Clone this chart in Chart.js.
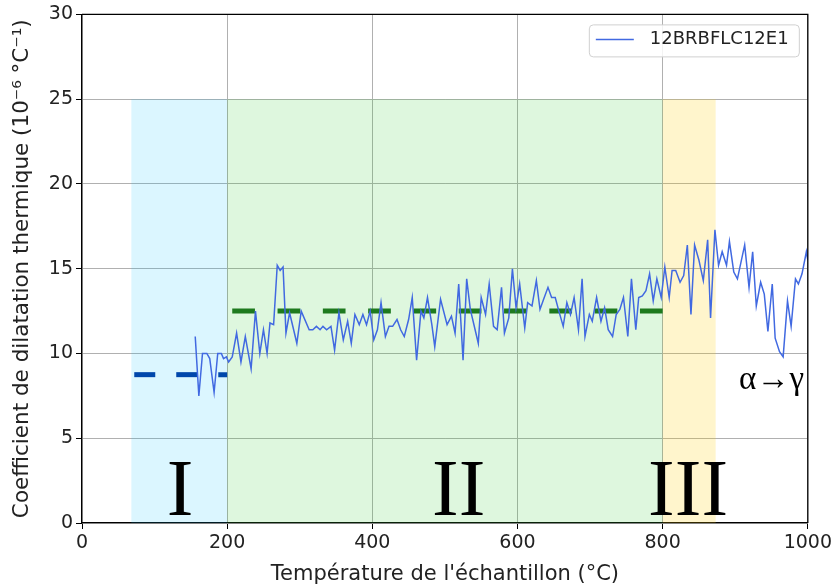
<!DOCTYPE html>
<html>
<head>
<meta charset="utf-8">
<script src="https://cdn.jsdelivr.net/npm/chart.js@4/dist/chart.umd.min.js"></script>
<style>
  html, body { margin: 0; padding: 0; background: #fff; }
  #wrap { width: 835px; height: 587px; }
</style>
</head>
<body>
<div id="wrap"><canvas id="c" width="835" height="587"></canvas></div>
<script>
// Measured thermal expansion coefficient versus sample temperature
const temperatures = [
  156, 161, 166, 172, 176, 182, 187, 192, 195, 199,
  202, 207, 213, 219, 225, 233, 239, 245, 250, 255,
  259, 264, 269, 273, 277, 281, 286, 291, 296, 302,
  313, 318, 323, 328, 332, 337, 343, 348, 354, 360,
  366, 371, 376, 382, 387, 392, 397, 402, 407, 412,
  418, 423, 428, 434, 439, 444, 450, 455, 461, 467,
  471, 476, 482, 486, 494, 503, 509, 514, 519, 525,
  530, 535, 546, 550, 556, 561, 567, 572, 578, 582,
  588, 593, 598, 603, 610, 614, 620, 626, 631, 636,
  642, 647, 652, 657, 663, 668, 673, 678, 684, 689,
  693, 699, 703, 709, 715, 720, 725, 731, 736, 741,
  746, 752, 757, 763, 767, 772, 777, 782, 787, 792,
  798, 803, 809, 813, 818, 824, 829, 834, 839, 844,
  850, 856, 862, 866, 872, 877, 882, 888, 892, 898,
  903, 913, 919, 924, 929, 935, 940, 945, 951, 955,
  961, 966, 972, 977, 983, 987, 992, 998, 1000
];
const coefficients = [
  11.0, 7.5, 10.0, 10.0, 9.7, 7.7, 10.0, 10.0, 9.7, 9.8,
  9.5, 9.8, 11.2, 9.5, 11.0, 9.1, 12.5, 10.0, 11.4, 10.0,
  11.8, 11.7, 15.2, 14.9, 15.1, 11.2, 12.4, 11.5, 10.6, 12.5,
  11.4, 11.4, 11.6, 11.4, 11.6, 11.4, 11.6, 10.2, 12.4, 10.8,
  11.9, 10.6, 12.3, 11.7, 12.3, 11.7, 12.5, 10.8, 11.4, 13.0,
  11.0, 11.6, 11.6, 12.0, 11.4, 11.0, 12.0, 13.3, 9.6, 12.5,
  12.1, 13.3, 11.7, 10.4, 13.2, 11.7, 12.2, 11.2, 14.1, 9.6,
  14.4, 12.6, 10.6, 13.3, 12.3, 14.1, 11.6, 11.4, 13.9, 11.2,
  12.1, 15.0, 12.7, 14.1, 11.5, 13.0, 12.8, 14.3, 12.6, 13.2,
  13.9, 13.3, 13.3, 12.5, 11.6, 13.0, 12.3, 13.3, 11.4, 14.4,
  11.0, 12.3, 11.9, 13.3, 11.9, 12.7, 11.4, 11.0, 12.3, 12.6,
  13.3, 11.0, 14.4, 11.4, 13.3, 13.4, 13.7, 14.7, 13.1, 14.4,
  13.3, 15.1, 13.3, 14.9, 14.9, 14.2, 14.6, 16.4, 12.3, 16.4,
  15.5, 14.3, 16.7, 12.1, 17.3, 15.2, 16.0, 15.2, 16.6, 14.8,
  14.4, 16.4, 13.9, 16.0, 12.8, 14.2, 13.5, 11.3, 14.1, 10.9,
  10.1, 9.8, 13.1, 11.6, 14.4, 14.1, 14.7, 16.0, 15.5
];
const seriesName = '12BRBFLC12E1';

// Temperature domains I, II, III
const zoneLabels = ['I', 'II', 'III'];
const zoneStart = [68, 200, 800];
const zoneEnd = [200, 800, 873];
const zoneTop = 25;
const zoneLabelAt = [135, 519, 835];

// Mean coefficient over domains I and II
const meanStart = [72, 207];
const meanEnd = [200, 800];
const meanValue = [8.75, 12.5];

const transformText = 'α→γ';
const transformAt = [950, 7.9];

const xTicks = [0, 200, 400, 600, 800, 1000];
const yTicks = [0, 5, 10, 15, 20, 25, 30];

const zoneFill = ['rgba(0,191,255,0.14)', 'rgba(50,205,50,0.16)', 'rgba(255,205,0,0.2)'];
const meanColor = ['#0047ab', '#1e7a1e'];
const meanDash = [[21, 21], [22.7, 22.6]];

const zonesPlugin = {
  id: 'zones',
  beforeDatasetsDraw(chart) {
    const { ctx, scales: { x, y } } = chart;
    ctx.save();
    zoneStart.forEach((s, i) => {
      const x0 = x.getPixelForValue(s), x1 = x.getPixelForValue(zoneEnd[i]);
      const y0 = y.getPixelForValue(zoneTop), y1 = y.getPixelForValue(0);
      ctx.fillStyle = zoneFill[i];
      ctx.fillRect(x0, y0, x1 - x0, y1 - y0);
    });
    ctx.restore();
  },
  afterDatasetsDraw(chart) {
    const { ctx, chartArea: a, scales: { x, y } } = chart;
    ctx.save();
    // Domain numerals
    ctx.fillStyle = '#000';
    ctx.textAlign = 'center';
    ctx.textBaseline = 'alphabetic';
    ctx.font = '80px "Liberation Serif", "DejaVu Serif", serif';
    zoneLabels.forEach((t, i) => {
      ctx.fillText(t, x.getPixelForValue(zoneLabelAt[i]), y.getPixelForValue(0.47));
    });
    ctx.font = '33px "Liberation Serif", "DejaVu Serif", serif';
    ctx.fillText(transformText, x.getPixelForValue(transformAt[0]), y.getPixelForValue(transformAt[1]));

    // Legend box
    const lx = a.right - 219, ly = a.top + 10, lw = 210, lh = 32;
    ctx.fillStyle = 'rgba(255,255,255,0.85)';
    ctx.strokeStyle = '#d0d0d0';
    ctx.lineWidth = 1;
    ctx.beginPath();
    ctx.roundRect(lx + 0.5, ly + 0.5, lw, lh, 4);
    ctx.fill();
    ctx.stroke();
    ctx.strokeStyle = '#4169e1';
    ctx.lineWidth = 1.5;
    ctx.beginPath();
    ctx.moveTo(lx + 7, ly + 15);
    ctx.lineTo(lx + 45, ly + 15);
    ctx.stroke();
    ctx.fillStyle = '#222';
    ctx.textAlign = 'left';
    ctx.textBaseline = 'middle';
    ctx.font = '18px "DejaVu Sans", sans-serif';
    ctx.fillText(seriesName, lx + 61, ly + 15);

    // Frame on top and right
    ctx.strokeStyle = '#000';
    ctx.lineWidth = 1.3;
    ctx.beginPath();
    ctx.moveTo(a.left, a.top);
    ctx.lineTo(a.right, a.top);
    ctx.lineTo(a.right, a.bottom);
    ctx.stroke();
    ctx.restore();
  }
};

const datasets = [
  {
    label: seriesName,
    data: temperatures.map((t, i) => ({ x: t, y: coefficients[i] })),
    borderColor: '#4169e1',
    borderWidth: 1.5,
    pointRadius: 0,
    tension: 0,
    order: 0
  }
];
meanValue.forEach((v, i) => {
  datasets.push({
    label: 'mean' + (i + 1),
    data: [{ x: meanStart[i], y: v }, { x: meanEnd[i], y: v }],
    borderColor: meanColor[i],
    borderWidth: 5,
    borderDash: meanDash[i],
    borderCapStyle: 'butt',
    pointRadius: 0,
    order: 1
  });
});

new Chart(document.getElementById('c'), {
  type: 'line',
  data: { datasets },
  options: {
    responsive: false,
    devicePixelRatio: 1,
    animation: false,
    layout: { padding: { left: 0, right: 25, top: 13, bottom: 0 } },
    plugins: { legend: { display: false }, tooltip: { enabled: false } },
    scales: {
      x: {
        type: 'linear',
        min: 0, max: 1000,
        afterBuildTicks: (s) => { s.ticks = xTicks.map(v => ({ value: v })); },
        afterFit: (s) => { s.height = 64; },
        grid: { color: '#b0b0b0', lineWidth: 1, tickColor: '#000', tickLength: 6, drawTicks: true },
        border: { color: '#000', width: 1.3 },
        ticks: { color: '#222', font: { family: 'DejaVu Sans', size: 19 }, padding: 3, maxRotation: 0, callback: (v) => String(v) },
        title: { display: true, text: "Température de l'échantillon (°C)", color: '#222', font: { family: 'DejaVu Sans', size: 21 }, padding: { top: 0, bottom: 0 } }
      },
      y: {
        type: 'linear',
        min: 0, max: 30,
        afterBuildTicks: (s) => { s.ticks = yTicks.map(v => ({ value: v })); },
        afterFit: (s) => { s.width = 82; },
        grid: { color: '#b0b0b0', lineWidth: 1, tickColor: '#000', tickLength: 6, drawTicks: true },
        border: { color: '#000', width: 1.3 },
        ticks: { color: '#222', font: { family: 'DejaVu Sans', size: 19 }, padding: 3, callback: (v) => String(v) },
        title: { display: true, text: 'Coefficient de dilatation thermique (10⁻⁶ °C⁻¹)', color: '#222', font: { family: 'DejaVu Sans', size: 21.5 }, padding: { top: 10, bottom: 4 } }
      }
    }
  },
  plugins: [zonesPlugin]
});
</script>
</body>
</html>
